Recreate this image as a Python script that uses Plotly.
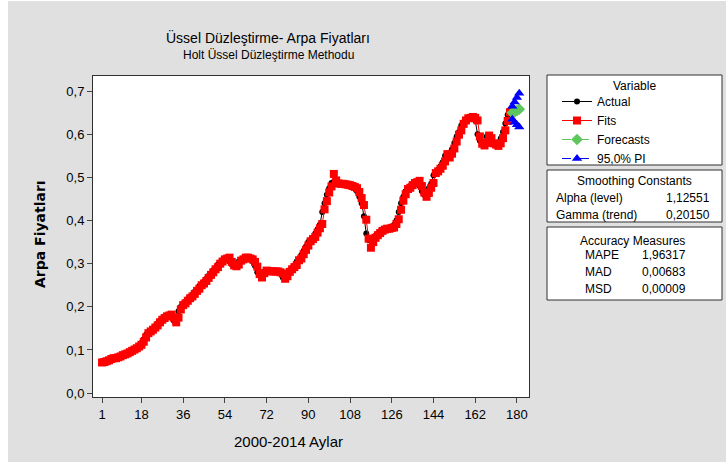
import plotly.graph_objects as go

# monthly barley prices, 2000-2014
months = list(range(1, 178))
actual = [
    0.072, 0.073, 0.075, 0.077, 0.079, 0.080, 0.082, 0.084, 0.086, 0.088,
    0.090, 0.093, 0.096, 0.099, 0.102, 0.106, 0.110, 0.116, 0.125, 0.135,
    0.140, 0.145, 0.150, 0.155, 0.162, 0.168, 0.172, 0.176, 0.178, 0.180,
    0.175, 0.168, 0.175, 0.190, 0.200, 0.205, 0.212, 0.218, 0.222, 0.228,
    0.235, 0.240, 0.248, 0.252, 0.258, 0.265, 0.272, 0.278, 0.285, 0.290,
    0.298, 0.303, 0.308, 0.310, 0.312, 0.305, 0.298, 0.295, 0.298, 0.305,
    0.308, 0.312, 0.313, 0.312, 0.310, 0.305, 0.295, 0.280, 0.272, 0.278,
    0.282, 0.282, 0.282, 0.282, 0.282, 0.282, 0.280, 0.278, 0.268, 0.272,
    0.280, 0.285, 0.290, 0.295, 0.305, 0.310, 0.320, 0.330, 0.340, 0.350,
    0.355, 0.360, 0.370, 0.380, 0.390, 0.420, 0.440, 0.460, 0.475, 0.487,
    0.490, 0.485, 0.485, 0.485, 0.484, 0.483, 0.482, 0.480, 0.478, 0.475,
    0.468, 0.455, 0.440, 0.410, 0.370, 0.355, 0.355, 0.360, 0.365, 0.370,
    0.375, 0.378, 0.380, 0.380, 0.382, 0.383, 0.390, 0.400, 0.420, 0.440,
    0.455, 0.468, 0.472, 0.480, 0.485, 0.487, 0.490, 0.480, 0.468, 0.460,
    0.465, 0.475, 0.485, 0.505, 0.510, 0.518, 0.525, 0.535, 0.550, 0.545,
    0.555, 0.565, 0.580, 0.595, 0.605, 0.620, 0.628, 0.634, 0.636, 0.638,
    0.637, 0.632, 0.600, 0.585, 0.580, 0.582, 0.595, 0.590, 0.580, 0.578,
    0.575, 0.580, 0.590, 0.605, 0.625, 0.645, 0.655,
]
fits = [
    0.071, 0.072, 0.074, 0.076, 0.079, 0.081, 0.081, 0.083, 0.085, 0.088,
    0.090, 0.092, 0.095, 0.098, 0.101, 0.104, 0.108, 0.112, 0.119, 0.129,
    0.139, 0.143, 0.147, 0.152, 0.157, 0.164, 0.170, 0.174, 0.178, 0.180,
    0.182, 0.175, 0.164, 0.175, 0.194, 0.204, 0.208, 0.214, 0.220, 0.224,
    0.230, 0.237, 0.242, 0.250, 0.254, 0.260, 0.267, 0.274, 0.280, 0.287,
    0.292, 0.300, 0.305, 0.310, 0.312, 0.314, 0.304, 0.296, 0.294, 0.298,
    0.307, 0.310, 0.314, 0.314, 0.312, 0.310, 0.304, 0.293, 0.276, 0.268,
    0.278, 0.284, 0.283, 0.282, 0.282, 0.282, 0.282, 0.280, 0.277, 0.265,
    0.271, 0.281, 0.287, 0.292, 0.297, 0.308, 0.312, 0.322, 0.332, 0.342,
    0.352, 0.357, 0.362, 0.372, 0.382, 0.392, 0.426, 0.445, 0.465, 0.479,
    0.508, 0.493, 0.486, 0.485, 0.485, 0.484, 0.483, 0.482, 0.480, 0.478,
    0.475, 0.466, 0.452, 0.436, 0.402, 0.358, 0.337, 0.350, 0.360, 0.366,
    0.371, 0.376, 0.379, 0.381, 0.381, 0.383, 0.384, 0.392, 0.403, 0.425,
    0.446, 0.461, 0.473, 0.476, 0.482, 0.487, 0.489, 0.492, 0.480, 0.465,
    0.455, 0.464, 0.476, 0.487, 0.510, 0.514, 0.520, 0.527, 0.537, 0.554,
    0.546, 0.555, 0.567, 0.583, 0.599, 0.609, 0.624, 0.632, 0.637, 0.638,
    0.640, 0.638, 0.632, 0.595, 0.578, 0.574, 0.580, 0.597, 0.591, 0.579,
    0.576, 0.573, 0.579, 0.591, 0.609, 0.631, 0.651,
]
fc_months = [178, 179, 180, 181]
forecasts = [0.650, 0.652, 0.655, 0.658]
pi_upper = [0.665, 0.675, 0.685, 0.695]
pi_lower = [0.635, 0.628, 0.622, 0.617]

x_ticks = [1, 18, 36, 54, 72, 90, 108, 126, 144, 162, 180]
y_ticks = [0.0, 0.1, 0.2, 0.3, 0.4, 0.5, 0.6, 0.7]

smoothing = [("Alpha (level)", "1,12551"), ("Gamma (trend)", "0,20150")]
accuracy = [("MAPE", "1,96317"), ("MAD", "0,00683"), ("MSD", "0,00009")]

FONT = "Liberation Sans"
GRAY = "#e0e0e0"

# plot area in pixels: left 93, right 529, top 76, bottom 397
def px(x):
    return (x - 93) / 436

def py(y):
    return (397 - y) / 321

fig = go.Figure()

fig.add_trace(go.Scatter(
    x=months, y=actual, name="Actual", mode="lines+markers",
    line=dict(color="black", width=1),
    marker=dict(symbol="circle", size=6, color="black")
))
fig.add_trace(go.Scatter(
    x=months, y=fits, name="Fits", mode="lines+markers",
    line=dict(color="#ff0000", width=1),
    marker=dict(symbol="square", size=8, color="#ff0000")
))
fig.add_trace(go.Scatter(
    x=fc_months, y=forecasts, name="Forecasts", mode="lines+markers",
    line=dict(color="#5dc75d", width=1, dash="dash"),
    marker=dict(symbol="diamond", size=9, color="#5dc75d")
))
fig.add_trace(go.Scatter(
    x=fc_months, y=pi_upper, name="95,0% PI", mode="lines+markers",
    legendgroup="pi",
    line=dict(color="#0000ff", width=1, dash="dash"),
    marker=dict(symbol="triangle-up", size=9, color="#0000ff")
))
fig.add_trace(go.Scatter(
    x=fc_months, y=pi_lower, name="95,0% PI", mode="lines+markers",
    legendgroup="pi", showlegend=False,
    line=dict(color="#0000ff", width=1, dash="dash"),
    marker=dict(symbol="triangle-up", size=9, color="#0000ff")
))

shapes = [
    # white strips round the gray panel
    dict(type="rect", xref="paper", yref="paper", x0=px(0), x1=px(8), y0=py(0), y1=py(465),
         fillcolor="white", line=dict(width=0)),
    dict(type="rect", xref="paper", yref="paper", x0=px(0), x1=px(726), y0=py(462), y1=py(465),
         fillcolor="white", line=dict(width=0)),
    dict(type="rect", xref="paper", yref="paper", x0=px(0), x1=px(726), y0=py(0), y1=py(1),
         fillcolor="white", line=dict(width=0)),
]
for top, bottom in [(75, 165), (170, 222), (227, 300)]:
    shapes.append(dict(type="rect", xref="paper", yref="paper",
                       x0=px(547), x1=px(722), y0=py(bottom), y1=py(top),
                       fillcolor="white", line=dict(color="#303030", width=1), layer="below"))

def note(text, x, y, size=12, xanchor="center", family=FONT, **kw):
    return dict(text=text, x=px(x), y=py(y), xref="paper", yref="paper",
                xanchor=xanchor, yanchor="middle", showarrow=False,
                font=dict(family=family, size=size, color="black"), **kw)

annotations = [
    note("Üssel Düzleştirme- Arpa Fiyatları", 268, 37, size=14),
    note("Holt Üssel Düzleştirme Methodu", 268, 55, size=12),
    note("<b>Arpa Fiyatları</b>", 40, 234, size=14, family="DejaVu Sans", textangle=-90),
    note("2000-2014 Aylar", 288, 441, size=15),
    note("Variable", 634, 86),
    note("Smoothing Constants", 634, 181),
    note("Accuracy Measures", 632, 241),
]
for i, (label, value) in enumerate(smoothing):
    annotations.append(note(label, 554, 198 + i * 17, xanchor="left"))
    annotations.append(note(value, 712, 198 + i * 17, xanchor="right"))
for i, (label, value) in enumerate(accuracy):
    annotations.append(note(label, 583, 255 + i * 17, xanchor="left"))
    annotations.append(note(value, 640, 255 + i * 17, xanchor="left"))

fig.update_layout(
    width=726, height=465,
    margin=dict(l=93, r=197, t=76, b=68),
    paper_bgcolor=GRAY, plot_bgcolor="white",
    separators=",.",
    font=dict(family=FONT, size=13, color="black"),
    showlegend=True,
    legend=dict(x=px(557), y=py(87), xanchor="left", yanchor="top",
                bgcolor="rgba(0,0,0,0)", borderwidth=0,
                font=dict(family=FONT, size=12), tracegroupgap=0),
    shapes=shapes,
    annotations=annotations,
)
fig.update_xaxes(
    range=[-2.9, 185.2], tickvals=x_ticks, ticks="outside", ticklen=5,
    showgrid=False, zeroline=False, showline=True, linecolor="#303030", mirror=True,
    tickfont=dict(size=13)
)
fig.update_yaxes(
    range=[-0.009, 0.735], tickvals=y_ticks, tickformat=".1f", ticks="outside", ticklen=5,
    showgrid=False, zeroline=False, showline=True, linecolor="#303030", mirror=True,
    tickfont=dict(size=13)
)

# the page body has an 8px default margin; drop it so the figure fills the window
fig.write_html("out.html", config={"displayModeBar": False},
               post_script="document.body.style.margin='0';")
